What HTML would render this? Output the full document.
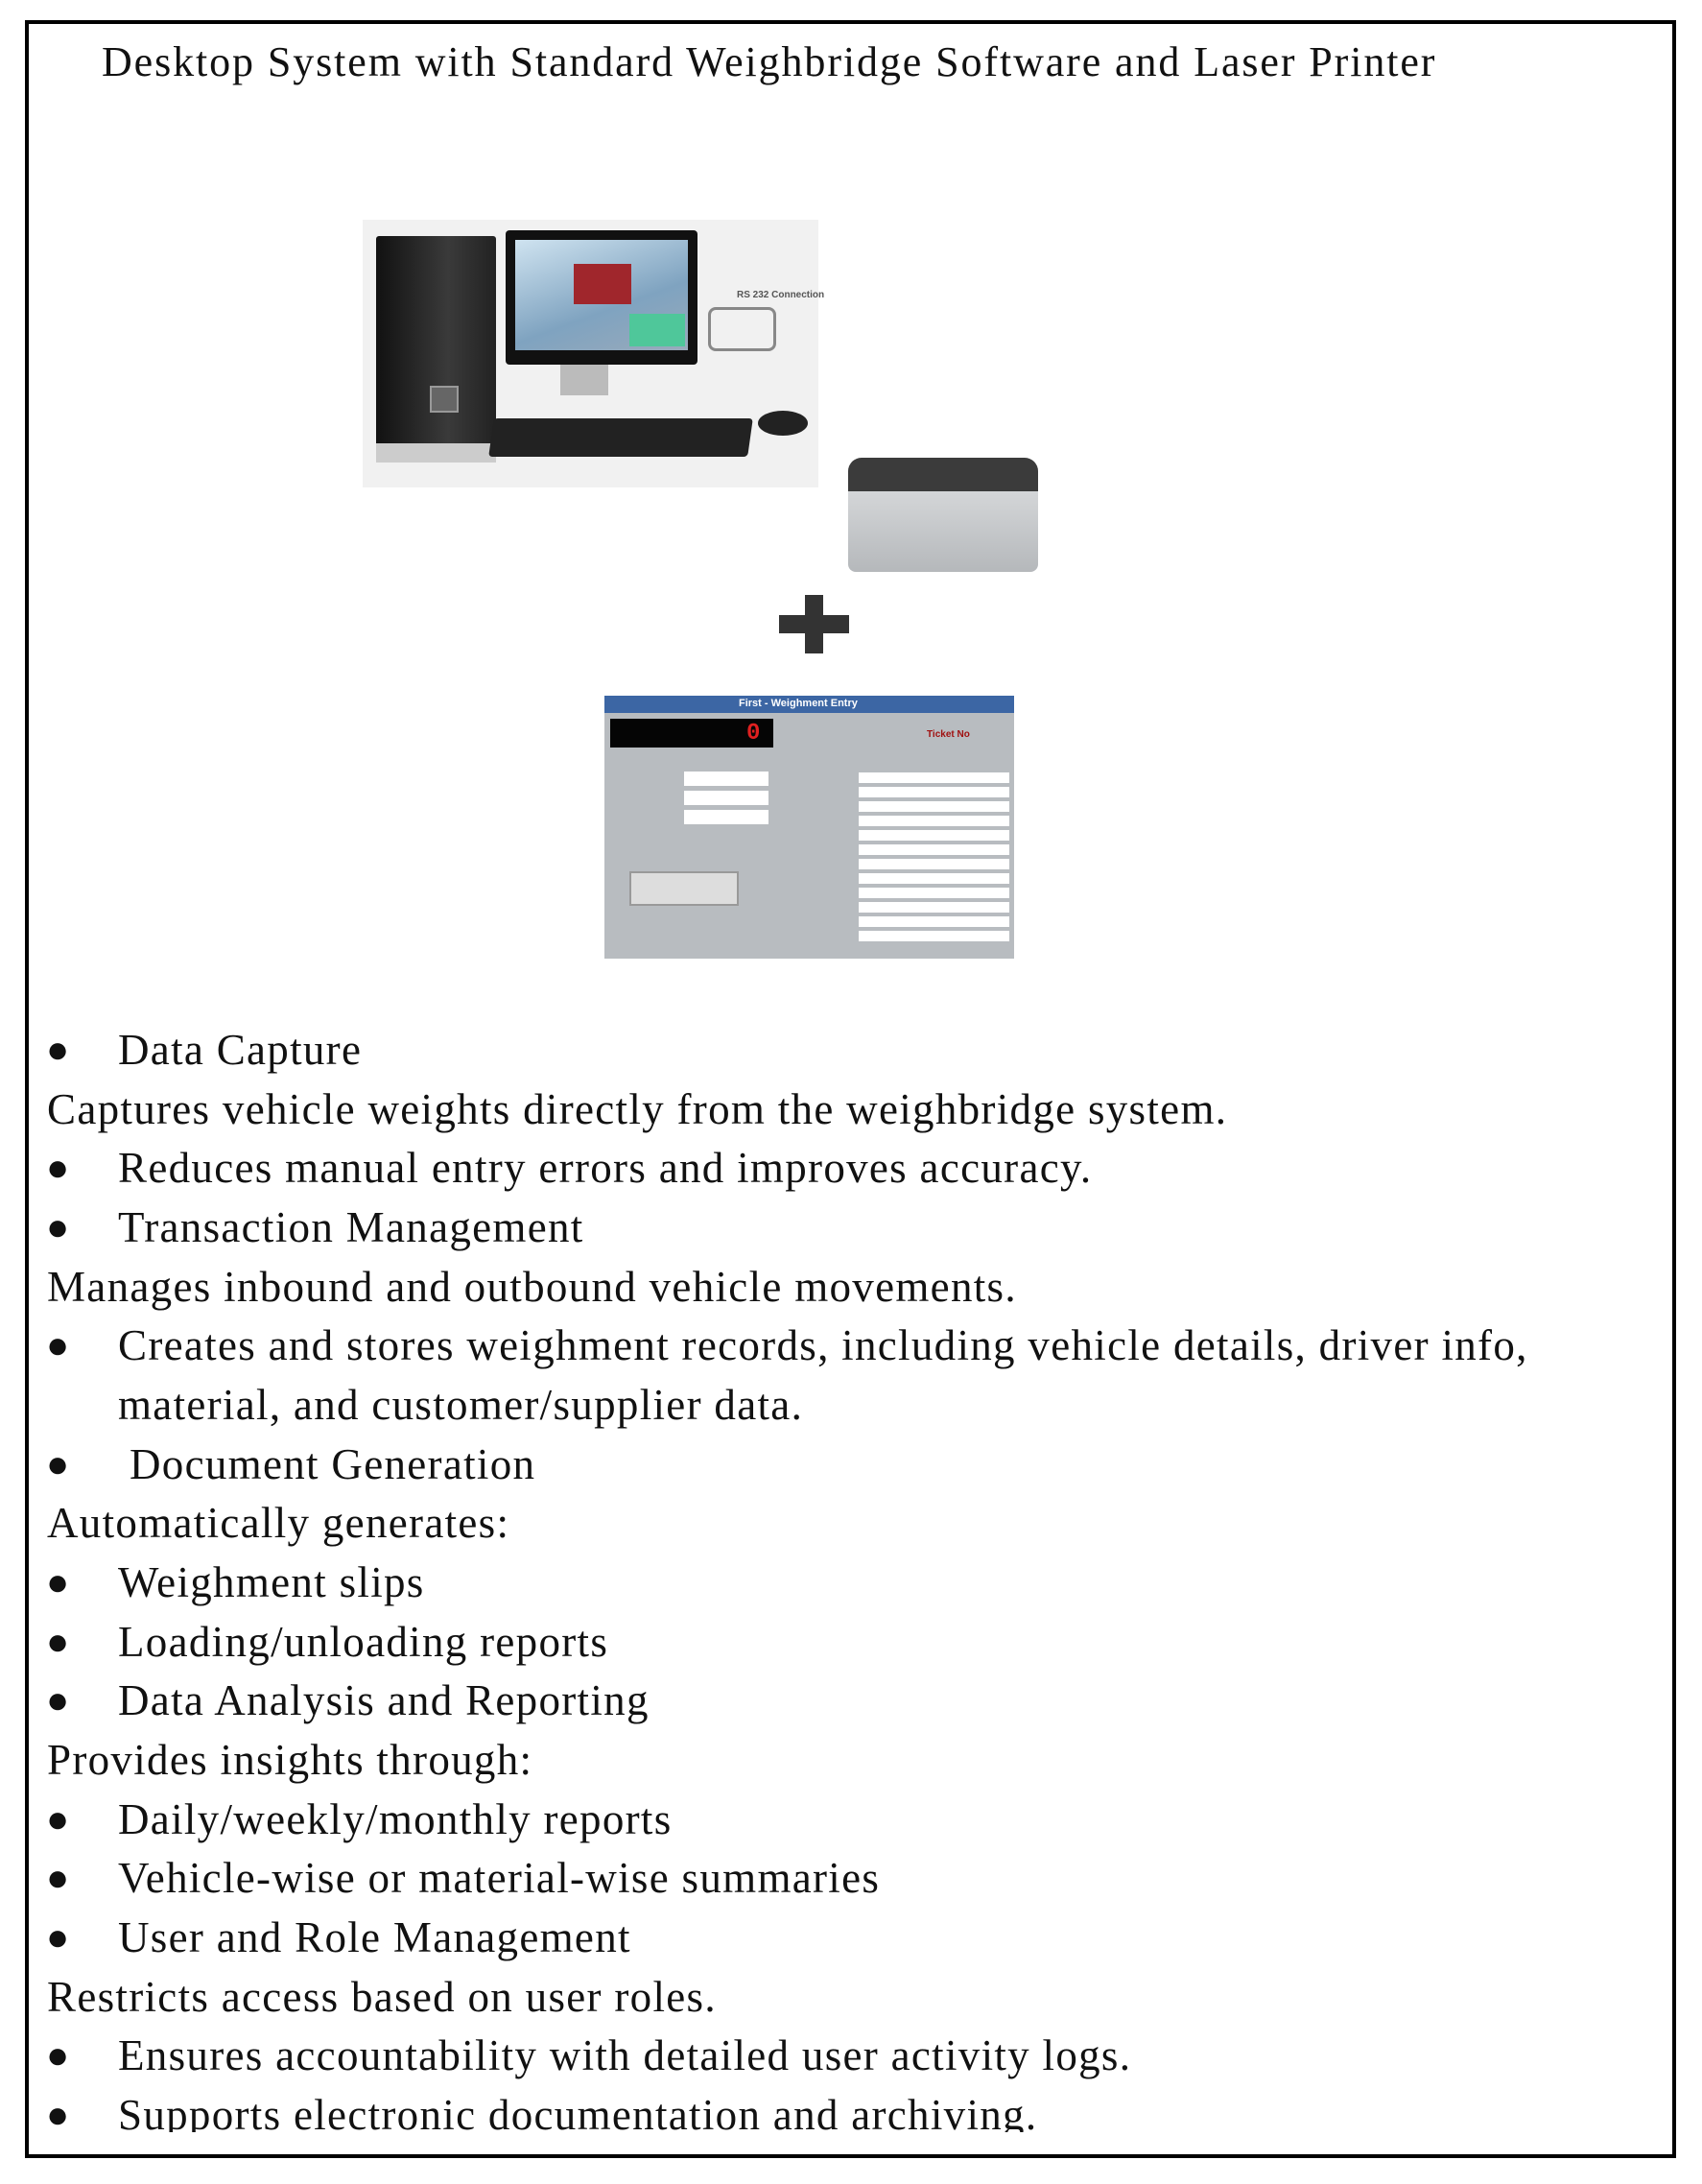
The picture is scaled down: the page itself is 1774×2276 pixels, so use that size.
<!DOCTYPE html>
<html><head><meta charset="utf-8"><style>
html,body{margin:0;padding:0;background:#fff;}
body{width:1774px;height:2276px;position:relative;overflow:hidden;font-family:"Liberation Serif",serif;color:#111;}
.frame{position:absolute;left:26px;top:21px;width:1713px;height:2220px;border:4px solid #000;box-sizing:content-box;}
.t{position:absolute;font-size:45px;white-space:nowrap;line-height:62px;letter-spacing:1.3px;}
.b{position:absolute;font-size:40px;line-height:62px;}
.clip{position:absolute;left:30px;top:1040px;width:1700px;height:1182px;overflow:hidden;}
</style></head><body>
<div class="frame"></div>
<div class="t" style="left:106px;top:34px;font-size:44px;letter-spacing:1.9px;">Desktop System with Standard Weighbridge Software and Laser Printer</div>

<!-- computer image -->
<div style="position:absolute;left:378px;top:229px;width:475px;height:279px;background:#f1f1f1;"></div>
<div style="position:absolute;left:392px;top:246px;width:125px;height:232px;background:linear-gradient(90deg,#111,#3a3a3a 60%,#222);border-radius:3px;"></div>
<div style="position:absolute;left:392px;top:462px;width:125px;height:20px;background:#ccc;"></div>
<div style="position:absolute;left:448px;top:402px;width:26px;height:24px;background:#666;border:2px solid #999;"></div>
<div style="position:absolute;left:527px;top:240px;width:200px;height:140px;background:#111;border-radius:4px;"></div>
<div style="position:absolute;left:537px;top:250px;width:180px;height:115px;background:linear-gradient(160deg,#cfe3f0,#7fa3c0 60%,#9ab);"></div>
<div style="position:absolute;left:598px;top:275px;width:60px;height:42px;background:#a0262c;"></div>
<div style="position:absolute;left:656px;top:327px;width:58px;height:34px;background:#4fc79a;"></div>
<div style="position:absolute;left:584px;top:380px;width:50px;height:32px;background:#bbb;"></div>
<div style="position:absolute;left:512px;top:436px;width:270px;height:40px;background:#222;border-radius:4px;transform:skewX(-8deg);"></div>
<div style="position:absolute;left:790px;top:428px;width:52px;height:26px;background:#222;border-radius:50%;"></div>
<div style="position:absolute;left:738px;top:320px;width:65px;height:40px;border:3px solid #888;border-radius:8px;"></div>
<div style="position:absolute;left:768px;top:302px;font:bold 10px 'Liberation Sans',sans-serif;color:#555;">RS 232 Connection</div>

<!-- printer -->
<div style="position:absolute;left:884px;top:477px;width:198px;height:40px;background:#3b3b3b;border-radius:14px 14px 0 0;"></div>
<div style="position:absolute;left:884px;top:512px;width:198px;height:84px;background:linear-gradient(#d4d6d8,#b5b8bb);border-radius:0 0 8px 8px;"></div>

<!-- plus -->
<div style="position:absolute;left:812px;top:641px;width:73px;height:19px;background:#333;"></div>
<div style="position:absolute;left:839px;top:620px;width:19px;height:61px;background:#333;"></div>

<!-- screenshot -->
<div style="position:absolute;left:630px;top:725px;width:427px;height:274px;background:#b8bcc0;"></div>
<div style="position:absolute;left:630px;top:725px;width:427px;height:18px;background:#3c66a4;"></div>
<div style="position:absolute;left:770px;top:727px;font:bold 11px 'Liberation Sans',sans-serif;color:#fff;">First - Weighment Entry</div>
<div style="position:absolute;left:636px;top:749px;width:170px;height:30px;background:#050505;"></div>
<div style="position:absolute;left:778px;top:751px;font:bold 24px 'Liberation Mono',monospace;color:#e02020;">0</div>
<div style="position:absolute;left:713px;top:804px;width:88px;height:58px;background:repeating-linear-gradient(#fff 0 15px,#b8bcc0 15px 20px);"></div>
<div style="position:absolute;left:895px;top:805px;width:157px;height:180px;background:repeating-linear-gradient(#fff 0 11px,#b8bcc0 11px 15px);"></div>
<div style="position:absolute;left:656px;top:908px;width:110px;height:32px;background:#ddd;border:2px solid #999;"></div>
<div style="position:absolute;left:966px;top:760px;font:bold 10px 'Liberation Sans',sans-serif;color:#a01010;">Ticket No</div>

<div class="clip">
<div class="b" style="left:18px;top:23px;">●</div><div class="t" style="left:93px;top:23px;">Data Capture</div>
<div class="t" style="left:19px;top:85px;">Captures vehicle weights directly from the weighbridge system.</div>
<div class="b" style="left:18px;top:146px;">●</div><div class="t" style="left:93px;top:146px;">Reduces manual entry errors and improves accuracy.</div>
<div class="b" style="left:18px;top:208px;">●</div><div class="t" style="left:93px;top:208px;">Transaction Management</div>
<div class="t" style="left:19px;top:270px;">Manages inbound and outbound vehicle movements.</div>
<div class="b" style="left:18px;top:331px;">●</div><div class="t" style="left:93px;top:331px;">Creates and stores weighment records, including vehicle details, driver info,</div>
<div class="t" style="left:93px;top:393px;">material, and customer/supplier data.</div>
<div class="b" style="left:18px;top:455px;">●</div><div class="t" style="left:105px;top:455px;">Document Generation</div>
<div class="t" style="left:19px;top:516px;">Automatically generates:</div>
<div class="b" style="left:18px;top:578px;">●</div><div class="t" style="left:93px;top:578px;">Weighment slips</div>
<div class="b" style="left:18px;top:640px;">●</div><div class="t" style="left:93px;top:640px;">Loading/unloading reports</div>
<div class="b" style="left:18px;top:701px;">●</div><div class="t" style="left:93px;top:701px;">Data Analysis and Reporting</div>
<div class="t" style="left:19px;top:763px;">Provides insights through:</div>
<div class="b" style="left:18px;top:825px;">●</div><div class="t" style="left:93px;top:825px;">Daily/weekly/monthly reports</div>
<div class="b" style="left:18px;top:886px;">●</div><div class="t" style="left:93px;top:886px;">Vehicle-wise or material-wise summaries</div>
<div class="b" style="left:18px;top:948px;">●</div><div class="t" style="left:93px;top:948px;">User and Role Management</div>
<div class="t" style="left:19px;top:1010px;">Restricts access based on user roles.</div>
<div class="b" style="left:18px;top:1071px;">●</div><div class="t" style="left:93px;top:1071px;">Ensures accountability with detailed user activity logs.</div>
<div class="b" style="left:18px;top:1133px;">●</div><div class="t" style="left:93px;top:1133px;">Supports electronic documentation and archiving.</div>
</div>
</body></html>
